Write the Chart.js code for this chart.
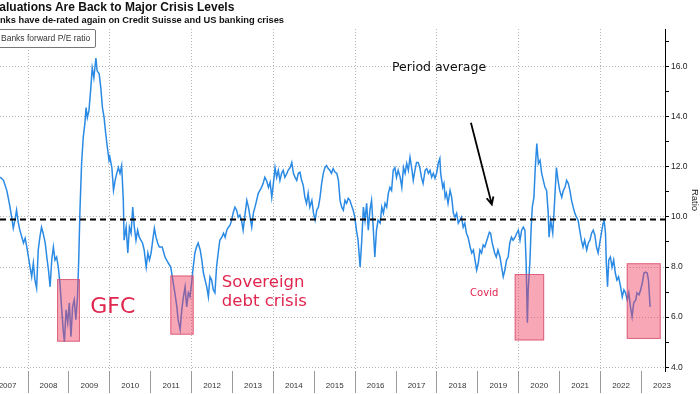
<!DOCTYPE html>
<html>
<head>
<meta charset="utf-8">
<script src="https://cdn.jsdelivr.net/npm/chart.js@4/dist/chart.umd.min.js"></script>
<style>
  body { margin: 0; background: #fff; }
  #wrap { position: relative; width: 700px; height: 394px; overflow: hidden; background: #fff; font-family: "Liberation Sans", Arial, sans-serif; }
  #c { position: absolute; left: 0; top: 0; }
  .title { position: absolute; left: -8px; top: 0px; font-size: 12px; font-weight: bold; color: #111; white-space: nowrap; }
  .sub { position: absolute; left: -12px; top: 15px; font-size: 9.3px; font-weight: bold; color: #111; white-space: nowrap; }
  .leg { position: absolute; left: -4px; top: 29px; width: 94px; height: 17px; border: 1px solid #777; border-radius: 2px; background: #fff;
         font-size: 8.5px; line-height: 17px; color: #333; padding-left: 4px; box-sizing: content-box; white-space: nowrap; }
</style>
</head>
<body>
<div id="wrap">
  <canvas id="c" width="700" height="394"></canvas>
  <div class="title">Valuations Are Back to Major Crisis Levels</div>
  <div class="sub">Banks have de-rated again on Credit Suisse and US banking crises</div>
  <div class="leg">Banks forward P/E ratio</div>
</div>
<script>
// banks forward P/E (decimal years)
const dates = [
  2007.32,2007.40,2007.48,2007.52,2007.56,2007.60,2007.64,2007.68,2007.72,2007.76,2007.80,2007.85,2007.89,2007.93,2007.97,
  2008.01,2008.05,2008.09,2008.13,2008.17,2008.21,2008.25,2008.29,2008.33,2008.37,2008.42,2008.46,2008.50,2008.54,2008.58,2008.62,2008.66,2008.70,2008.74,2008.78,2008.82,2008.86,2008.89,2008.93,2008.97,
  2009.01,2009.05,2009.09,2009.13,2009.17,2009.21,2009.24,2009.27,2009.31,2009.35,2009.39,2009.42,2009.45,2009.49,2009.53,2009.57,2009.61,2009.66,2009.69,2009.74,2009.78,2009.82,2009.86,2009.90,2009.94,2009.98,
  2010.00,2010.05,2010.09,2010.13,2010.17,2010.21,2010.25,2010.29,2010.33,2010.35,2010.40,2010.44,2010.48,2010.52,2010.56,2010.60,2010.64,2010.68,2010.72,2010.76,2010.80,2010.84,2010.89,2010.93,2010.97,
  2011.01,2011.05,2011.09,2011.13,2011.17,2011.21,2011.28,2011.35,2011.43,2011.49,2011.54,2011.59,2011.64,2011.67,2011.72,2011.76,2011.80,2011.84,2011.88,2011.92,2011.96,
  2012.00,2012.04,2012.08,2012.12,2012.16,2012.21,2012.25,2012.29,2012.33,2012.37,2012.41,2012.45,2012.49,2012.53,2012.57,2012.61,2012.65,2012.69,2012.74,2012.78,2012.82,2012.86,2012.90,2012.94,2012.98,
  2013.02,2013.06,2013.10,2013.14,2013.18,2013.22,2013.26,2013.31,2013.35,2013.39,2013.43,2013.47,2013.51,2013.55,2013.59,2013.63,2013.67,2013.71,2013.75,2013.79,2013.83,2013.88,2013.92,2013.96,
  2014.00,2014.04,2014.08,2014.12,2014.16,2014.20,2014.24,2014.28,2014.33,2014.36,2014.41,2014.45,2014.49,2014.53,2014.57,2014.61,2014.65,2014.69,2014.73,2014.77,2014.81,2014.85,2014.89,2014.94,2014.98,
  2015.02,2015.06,2015.10,2015.14,2015.18,2015.22,2015.26,2015.30,2015.34,2015.38,2015.42,2015.46,2015.51,2015.55,2015.59,2015.63,2015.67,2015.71,2015.75,2015.79,2015.83,2015.87,2015.91,2015.95,2015.99,
  2016.03,2016.07,2016.12,2016.16,2016.20,2016.24,2016.28,2016.32,2016.36,2016.40,2016.44,2016.48,2016.52,2016.56,2016.61,2016.65,2016.69,2016.73,2016.77,2016.81,2016.85,2016.89,2016.93,2016.97,
  2017.01,2017.05,2017.10,2017.14,2017.18,2017.22,2017.26,2017.30,2017.34,2017.38,2017.42,2017.46,2017.50,2017.54,2017.58,2017.62,2017.66,2017.71,2017.75,2017.79,2017.83,2017.87,2017.91,2017.95,2017.99,
  2018.03,2018.07,2018.09,2018.14,2018.17,2018.20,2018.23,2018.27,2018.32,2018.36,2018.40,2018.44,2018.48,2018.52,2018.56,2018.60,2018.64,2018.68,2018.72,2018.76,2018.81,2018.85,2018.89,2018.93,2018.97,
  2019.01,2019.05,2019.09,2019.13,2019.17,2019.22,2019.28,2019.31,2019.35,2019.41,2019.45,2019.49,2019.54,2019.58,2019.62,2019.66,2019.70,2019.74,2019.78,2019.82,2019.86,2019.91,2019.95,2019.99,
  2020.03,2020.07,2020.11,2020.15,2020.18,2020.21,2020.23,2020.27,2020.30,2020.33,2020.37,2020.40,2020.44,2020.48,2020.52,2020.56,2020.60,2020.64,2020.68,2020.72,2020.74,2020.78,2020.83,2020.86,2020.89,2020.92,2020.96,
  2021.00,2021.05,2021.09,2021.13,2021.17,2021.21,2021.25,2021.29,2021.33,2021.37,2021.41,2021.45,2021.49,2021.53,2021.57,2021.61,2021.66,2021.70,2021.74,2021.78,2021.82,2021.86,2021.90,2021.94,2021.98,
  2022.02,2022.06,2022.08,2022.12,2022.14,2022.17,2022.20,2022.24,2022.28,2022.32,2022.36,2022.40,2022.44,2022.49,2022.53,2022.57,2022.61,2022.65,2022.69,2022.73,2022.77,2022.81,2022.86,2022.89,2022.94,2022.98,
  2023.02,2023.06,2023.10,2023.14,2023.17,2023.19,2023.21
];
const pe = [
  11.59,11.46,11.06,10.74,10.39,9.99,9.55,9.87,10.27,9.79,9.47,9.19,8.96,9.15,8.80,
  8.40,8.00,7.61,8.16,7.48,7.16,8.68,9.19,9.59,9.35,8.96,8.40,7.88,7.21,8.28,8.80,8.28,8.40,8.00,7.37,6.41,5.50,5.02,6.29,5.78,
  6.57,5.22,6.41,6.69,5.90,6.81,8.28,10.27,12.13,13.17,13.72,14.36,13.96,14.24,15.03,15.95,15.55,16.34,15.83,15.71,15.15,14.36,13.96,13.33,12.77,12.26,
  12.40,11.97,11.06,11.46,11.74,11.97,11.74,12.05,10.66,9.07,9.59,8.56,9.59,9.35,10.39,9.59,9.07,9.47,9.19,9.07,8.96,8.68,8.00,8.56,8.28,
  8.56,9.07,9.55,9.19,8.96,8.80,8.80,8.40,8.16,8.00,7.48,6.97,6.41,5.90,5.50,6.29,6.81,7.21,6.41,6.97,6.81,
  7.37,8.00,8.56,8.80,8.96,8.68,8.28,7.76,7.48,7.21,6.81,7.61,7.48,7.09,6.97,8.00,8.56,9.07,9.19,9.35,9.19,9.47,9.59,9.67,9.87,
  10.19,10.39,10.27,9.99,10.07,9.87,9.47,10.15,10.66,10.39,9.99,9.59,10.15,10.39,10.66,10.94,11.06,11.18,11.34,11.58,11.46,11.18,11.38,10.78,
  11.34,11.97,11.58,11.86,11.46,11.74,11.86,11.58,11.74,11.86,11.97,12.17,11.74,11.58,11.46,11.74,11.78,11.46,11.26,10.78,10.54,10.94,10.39,10.66,10.15,
  9.87,10.27,10.39,10.78,11.34,11.74,11.97,12.05,11.93,11.86,11.74,11.93,11.78,11.74,11.46,10.66,10.39,10.27,10.66,10.54,10.74,10.66,10.46,10.27,9.99,
  9.47,9.07,8.00,9.07,10.39,9.87,10.54,9.47,10.27,10.66,9.59,8.40,9.47,9.87,9.75,10.39,10.15,10.54,10.39,10.94,11.18,11.06,11.86,11.97,
  11.58,11.86,11.58,11.18,11.97,11.74,12.13,11.86,12.38,11.97,11.46,11.86,12.17,12.17,11.97,11.58,11.34,11.86,11.93,11.74,11.86,11.58,11.74,11.54,11.74,
  12.13,12.33,11.74,11.18,11.34,10.78,10.94,10.54,11.06,10.78,10.15,9.99,10.15,9.75,9.87,9.99,9.59,9.75,9.35,9.19,8.80,8.56,8.68,8.28,7.88,
  8.16,8.68,8.56,8.88,8.80,9.07,9.39,9.35,8.96,8.56,8.40,8.68,8.40,8.00,7.61,7.88,8.28,8.40,8.96,9.19,9.07,9.19,9.35,9.47,
  9.07,9.47,9.59,9.47,8.16,5.78,7.09,8.16,9.47,10.39,10.78,11.86,12.93,12.13,12.26,11.74,11.46,11.18,11.06,10.15,9.19,9.87,9.35,10.15,11.06,11.97,11.46,
  11.06,10.78,11.06,11.18,11.46,11.34,11.06,10.66,10.39,10.15,9.99,9.87,9.47,9.07,8.80,9.07,8.68,8.96,9.07,9.35,9.47,9.27,8.80,8.56,8.96,
  9.35,9.75,9.95,9.35,8.16,7.21,8.28,8.40,8.00,8.28,7.76,7.48,7.61,7.21,6.81,7.09,6.97,6.69,6.97,6.41,6.01,6.57,6.69,6.97,6.89,7.09,
  7.37,7.76,7.80,7.76,7.48,6.97,6.41
];
const periodAverage = 9.9;

const yearLabels = ['2007','2008','2009','2010','2011','2012','2013','2014','2015','2016','2017','2018','2019','2020','2021','2022','2023'];
const ratioTicks = [4,5,6,7,8,9,10,11,12,13,14,15,16,17];
const xMin = 2007.315, xMax = 2023.575;

// crisis boxes
const boxFrom = [2008.71, 2011.48, 2019.90, 2022.64];
const boxTo   = [2009.27, 2012.05, 2020.62, 2023.47];
const boxLow  = [5.02, 5.30, 5.07, 5.13];
const boxHigh = [7.52, 7.66, 7.72, 8.15];

const red = '#e0264f';
const notes = [
  { text: 'GFC', x: 2009.52, y: 6.41, font: '22px "DejaVu Sans"', color: red },
  { text: 'Sovereign', x: 2012.74, y: 7.37, font: '16.5px "DejaVu Sans"', color: red },
  { text: 'debt crisis', x: 2012.74, y: 6.61, font: '16.5px "DejaVu Sans"', color: red },
  { text: 'Covid', x: 2018.81, y: 6.93, font: '10px "DejaVu Sans"', color: red },
  { text: 'Period average', x: 2016.90, y: 15.95, font: '12.5px "DejaVu Sans"', color: '#111' }
];
const arrowFrom = [2018.83, 13.76], arrowTo = [2019.34, 10.5];

const overlay = {
  id: 'overlay',
  afterDatasetsDraw(chart) {
    const { ctx, scales: { x, y } } = chart;
    ctx.save();
    for (let i = 0; i < boxFrom.length; i++) {
      const l = x.getPixelForValue(boxFrom[i]), r = x.getPixelForValue(boxTo[i]);
      const t = y.getPixelForValue(boxHigh[i]), b = y.getPixelForValue(boxLow[i]);
      ctx.fillStyle = 'rgba(240,60,95,0.45)';
      ctx.fillRect(l, t, r - l, b - t);
      ctx.strokeStyle = 'rgba(214,80,110,0.8)';
      ctx.lineWidth = 1;
      ctx.strokeRect(l + 0.5, t + 0.5, r - l - 1, b - t - 1);
    }
    ctx.textBaseline = 'middle';
    ctx.textAlign = 'left';
    notes.forEach(n => {
      ctx.font = n.font;
      ctx.fillStyle = n.color;
      ctx.fillText(n.text, x.getPixelForValue(n.x), y.getPixelForValue(n.y));
    });
    // arrow to the average line
    const x1 = x.getPixelForValue(arrowFrom[0]), y1 = y.getPixelForValue(arrowFrom[1]);
    const x2 = x.getPixelForValue(arrowTo[0]), y2 = y.getPixelForValue(arrowTo[1]);
    const a = Math.atan2(y2 - y1, x2 - x1);
    ctx.strokeStyle = '#000';
    ctx.lineWidth = 1.8;
    ctx.beginPath();
    ctx.moveTo(x1, y1); ctx.lineTo(x2, y2);
    ctx.moveTo(x2 - 8 * Math.cos(a - 0.45), y2 - 8 * Math.sin(a - 0.45));
    ctx.lineTo(x2, y2);
    ctx.lineTo(x2 - 8 * Math.cos(a + 0.45), y2 - 8 * Math.sin(a + 0.45));
    ctx.stroke();
    ctx.restore();
  }
};

Chart.defaults.font.family = '"Liberation Sans", Arial, sans-serif';

new Chart(document.getElementById('c'), {
  type: 'line',
  data: {
    datasets: [
      {
        data: [{ x: xMin, y: periodAverage }, { x: xMax, y: periodAverage }],
        borderColor: '#000', borderWidth: 2, borderDash: [6, 4], pointRadius: 0
      },
      {
        label: 'Banks forward P/E ratio',
        data: dates.map((d, i) => ({ x: d, y: pe[i] })),
        borderColor: '#2a8ae4', borderWidth: 1.5, pointRadius: 0, tension: 0
      }
    ]
  },
  options: {
    responsive: false,
    animation: false,
    devicePixelRatio: 1,
    layout: { padding: { top: 29, left: 0, right: 0, bottom: 0 } },
    plugins: { legend: { display: false }, tooltip: { enabled: false } },
    scales: {
      x: {
        type: 'linear', min: xMin, max: xMax,
        afterBuildTicks: s => { s.ticks = yearLabels.map(l => ({ value: Number(l) + 0.5 })); },
        afterFit: s => { s.height = 23; },
        grid: {
          offset: true,
          color: c => (c.tick && (c.tick.value - 0.5) % 2 === 0) ? '#b5b5b5' : 'rgba(0,0,0,0)',
          tickLength: 22, tickColor: '#9a9a9a', lineWidth: 1
        },
        border: { display: false, dash: [1, 2] },
        ticks: {
          autoSkip: false, maxRotation: 0, padding: -12, color: '#333',
          font: { size: 8 },
          callback: (v, i) => yearLabels[i]
        }
      },
      y: {
        position: 'right', min: 3.85, max: 17.5,
        afterBuildTicks: s => { s.ticks = ratioTicks.map(v => ({ value: v })); },
        afterFit: s => { s.width = 35; },
        grid: {
          color: c => (c.tick && c.tick.value % 2 === 0) ? '#b5b5b5' : 'rgba(0,0,0,0)',
          tickLength: 4, tickColor: '#000'
        },
        border: { display: true, color: '#000', width: 1, dash: [1, 2] },
        ticks: {
          padding: 2, color: '#222', font: { size: 8.5 },
          callback: v => (v % 2 === 0 ? v.toFixed(1) : '')
        },
        title: { display: true, text: 'Ratio', color: '#222', font: { size: 9.5 }, padding: { top: 0, bottom: 2 } }
      }
    }
  },
  plugins: [overlay]
});
</script>
</body>
</html>
